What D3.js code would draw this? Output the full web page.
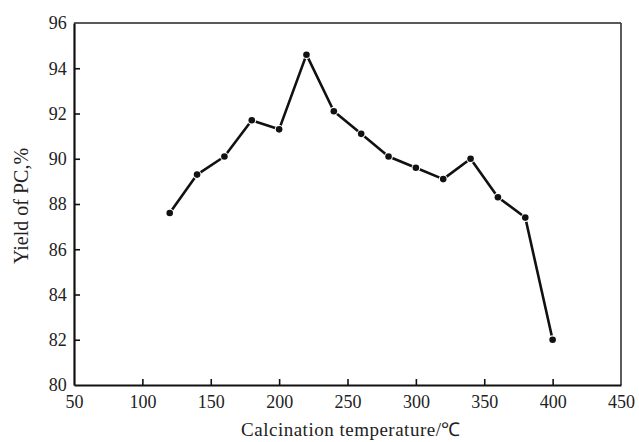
<!DOCTYPE html>
<html>
<head>
<meta charset="utf-8">
<script src="https://cdn.jsdelivr.net/npm/d3@7"></script>
<style>
  body { margin: 0; background: #fff; }
  svg text { font-family: "Liberation Serif", "Times New Roman", serif; fill: #222; }
</style>
</head>
<body>
<svg id="chart" width="639" height="442"></svg>
<script>
document.addEventListener("DOMContentLoaded", function() {

    // Data
    const temperatures = [120, 140, 160, 180, 200, 220, 240, 260, 280, 300, 320, 340, 360, 380, 400];
    const yields = [87.6, 89.3, 90.1, 91.7, 91.3, 94.6, 92.1, 91.1, 90.1, 89.6, 89.1, 90.0, 88.3, 87.4, 82.0];
    const xTicks = [50, 100, 150, 200, 250, 300, 350, 400, 450];
    const yTicks = [80, 82, 84, 86, 88, 90, 92, 94, 96];

    // Layout
    const margin = {top: 23, right: 18, bottom: 57, left: 74};
    const width = 639, height = 442;
    const graphWidth = width - margin.left - margin.right;
    const graphHeight = height - margin.top - margin.bottom;

    const svg = d3.select("#chart");
    const g = svg.append("g")
        .attr("transform", `translate(${margin.left},${margin.top})`);

    const x = d3.scaleLinear().domain([50, 450]).range([0, graphWidth]);
    const y = d3.scaleLinear().domain([80, 96]).range([graphHeight, 0]);

    // Frame: top and right thinner
    g.append("line")
        .attr("x1", 0).attr("x2", graphWidth).attr("y1", 0).attr("y2", 0)
        .attr("stroke", "#222").attr("stroke-width", 1.6);
    g.append("line")
        .attr("x1", graphWidth).attr("x2", graphWidth).attr("y1", 0).attr("y2", graphHeight)
        .attr("stroke", "#333").attr("stroke-width", 1.6);

    // Axes with inward ticks
    const xAxis = g.append("g")
        .attr("transform", `translate(0,${graphHeight})`)
        .call(d3.axisBottom(x).tickValues(xTicks).tickSizeInner(-6).tickSizeOuter(0).tickPadding(14));
    const yAxis = g.append("g")
        .call(d3.axisLeft(y).tickValues(yTicks).tickSizeInner(-6).tickSizeOuter(0).tickPadding(9));

    [xAxis, yAxis].forEach(a => {
        a.select(".domain").attr("stroke", "#111").attr("stroke-width", 2.2);
        a.selectAll(".tick line").attr("stroke", "#111").attr("stroke-width", 1.6);
        a.selectAll(".tick text")
            .style("font-family", '"Liberation Serif", serif')
            .style("font-size", "18px")
            .attr("fill", "#222");
    });
    xAxis.selectAll(".tick text").attr("dy", "0.5em");
    yAxis.selectAll(".tick text").attr("dx", "0.1em");

    // Hide ticks sitting on the frame corners
    xAxis.selectAll(".tick line").filter(d => d === 50 || d === 450).remove();
    yAxis.selectAll(".tick line").filter(d => d === 80 || d === 96).remove();

    // Series line
    const points = temperatures.map((t, i) => ({t: t, v: yields[i]}));
    const line = d3.line()
        .x(d => x(d.t))
        .y(d => y(d.v));

    g.append("path")
        .datum(points)
        .attr("fill", "none")
        .attr("stroke", "#111")
        .attr("stroke-width", 2.6)
        .attr("stroke-linejoin", "round")
        .attr("d", line);

    // Markers with a small white gap around them
    g.selectAll(".pt")
        .data(points)
        .enter().append("circle")
        .attr("class", "pt")
        .attr("cx", d => x(d.t))
        .attr("cy", d => y(d.v))
        .attr("r", 3.3)
        .attr("fill", "#111")
        .attr("stroke", "#fff")
        .attr("stroke-width", 2.2)
        .attr("paint-order", "stroke");

    // Axis titles
    svg.append("text")
        .attr("x", 351)
        .attr("y", 436)
        .attr("text-anchor", "middle")
        .style("font-size", "19px")
        .style("letter-spacing", "0.5px")
        .text("Calcination temperature/℃");

    svg.append("text")
        .attr("transform", `translate(28,206) rotate(-90)`)
        .attr("text-anchor", "middle")
        .style("font-size", "20px")
        .text("Yield of PC,%");
});
</script>
</body>
</html>
